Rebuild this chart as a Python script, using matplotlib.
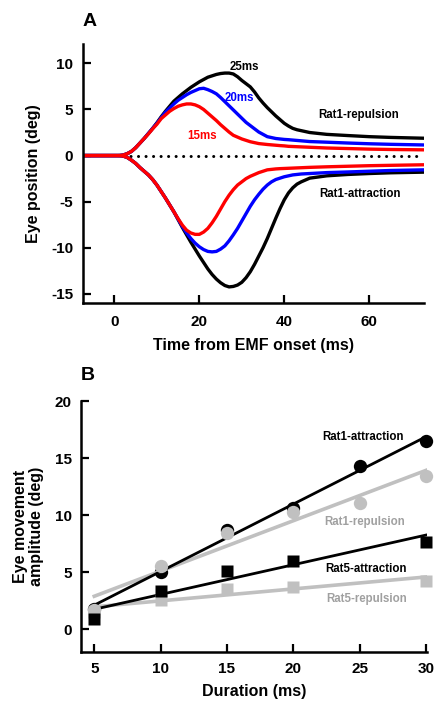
import numpy as np
import matplotlib
matplotlib.use("Agg")
from matplotlib import pyplot as plt

plt.rcParams['font.family'] = ['Liberation Sans', 'DejaVu Sans']
plt.rcParams['font.weight'] = 'bold'
plt.rcParams['axes.unicode_minus'] = False

# ---- panel A: eye position traces ----
t = [-7.4, -4] + list(range(45)) + [46, 50, 55, 60, 65, 72.9]

rep_25 = [0, 0, 0, 0, 0.05, 0.2, 0.45, 0.85, 1.35, 1.85, 2.4, 2.95, 3.55, 4.2, 4.8,
          5.35, 5.9, 6.3, 6.7, 7.05, 7.4, 7.7, 8.0, 8.25, 8.5, 8.65, 8.8, 8.9, 8.95,
          8.95, 8.85, 8.55, 8.15, 7.8, 7.45, 6.9, 6.25, 5.7, 5.2, 4.75, 4.3, 3.9,
          3.5, 3.2, 2.95, 2.8, 2.7, 2.5, 2.3, 2.17, 2.05, 1.97, 1.88]
rep_20 = [0, 0, 0, 0, 0.05, 0.2, 0.45, 0.85, 1.35, 1.85, 2.4, 2.95, 3.5, 4.1, 4.7,
          5.15, 5.6, 6.0, 6.3, 6.6, 6.85, 7.05, 7.25, 7.3, 7.15, 6.95, 6.7, 6.3,
          5.85, 5.4, 4.95, 4.5, 4.05, 3.6, 3.25, 2.9, 2.55, 2.3, 2.05, 1.95, 1.85,
          1.8, 1.75, 1.72, 1.68, 1.64, 1.6, 1.52, 1.45, 1.36, 1.28, 1.22, 1.15]
rep_15 = [0, 0, 0, 0, 0.05, 0.2, 0.45, 0.85, 1.35, 1.85, 2.35, 2.9, 3.4, 4.0, 4.4,
          4.8, 5.1, 5.35, 5.5, 5.6, 5.6, 5.5, 5.3, 5.0, 4.6, 4.2, 3.8, 3.35, 2.95,
          2.55, 2.2, 2.0, 1.8, 1.65, 1.5, 1.4, 1.3, 1.25, 1.2, 1.16, 1.12, 1.08,
          1.05, 1.0, 0.98, 0.96, 0.94, 0.9, 0.82, 0.76, 0.7, 0.66, 0.62]
att_25 = [0, 0, 0, 0, -0.05, -0.2, -0.5, -0.85, -1.3, -1.7, -2.1, -2.6, -3.2, -3.9,
          -4.6, -5.35, -6.1, -6.95, -7.8, -8.6, -9.4, -10.15, -10.9, -11.6, -12.3,
          -12.9, -13.4, -13.8, -14.1, -14.25, -14.2, -14.05, -13.75, -13.25, -12.6,
          -11.8, -10.9, -10.0, -9.0, -7.9, -6.8, -5.75, -4.8, -4.05, -3.5, -3.1,
          -2.85, -2.45, -2.2, -2.05, -1.95, -1.87, -1.8]
att_20 = [0, 0, 0, 0, -0.05, -0.2, -0.5, -0.85, -1.3, -1.7, -2.1, -2.6, -3.2, -3.9,
          -4.6, -5.35, -6.1, -6.9, -7.7, -8.4, -9.0, -9.5, -9.9, -10.2, -10.4,
          -10.45, -10.4, -10.15, -9.8, -9.25, -8.6, -7.9, -7.1, -6.3, -5.5, -4.8,
          -4.2, -3.65, -3.2, -2.85, -2.6, -2.45, -2.3, -2.2, -2.1, -2.05, -2.0,
          -1.95, -1.85, -1.78, -1.7, -1.62, -1.55]
att_15 = [0, 0, 0, 0, -0.05, -0.2, -0.5, -0.85, -1.3, -1.7, -2.1, -2.6, -3.2, -3.9,
          -4.6, -5.35, -6.1, -6.85, -7.55, -8.1, -8.4, -8.55, -8.55, -8.3, -7.9,
          -7.3, -6.6, -5.8, -5.0, -4.3, -3.7, -3.2, -2.85, -2.5, -2.25, -2.05,
          -1.85, -1.7, -1.55, -1.5, -1.45, -1.42, -1.4, -1.38, -1.36, -1.34, -1.32,
          -1.28, -1.22, -1.16, -1.1, -1.06, -1.0]

# ---- panel B: amplitude vs duration ----
dur = [5, 10, 15, 20, 25, 30]
r1_att = [1.8, 5.0, 8.7, 10.6, 14.3, 16.5]
r1_rep = [1.7, 5.5, 8.4, 10.3, 11.1, 13.4]
dur5 = [5, 10, 15, 20, 30]
r5_att = [0.9, 3.35, 5.1, 6.0, 7.67]
r5_rep = [1.5, 2.6, 3.5, 3.7, 4.25]

GRAY = '#c0c0c0'
GRAY_TXT = '#a0a0a0'

fig = plt.figure(figsize=(4.36, 7.08), dpi=100)

# ----------- A -----------
ax = fig.add_axes([0.1904, 0.572, 0.782, 0.3658])
ax.plot([2, 71.5], [0, 0], color='black', lw=2.2, ls=(0, (0.01, 2.45)),
        dash_capstyle='round')
lw = 2.4
ax.plot(t, rep_25, color='black', lw=lw, solid_joinstyle='round')
ax.plot(t, att_25, color='black', lw=lw, solid_joinstyle='round')
ax.plot(t, rep_20, color='#0000ff', lw=lw, solid_joinstyle='round')
ax.plot(t, att_20, color='#0000ff', lw=lw, solid_joinstyle='round')
ax.plot(t, rep_15, color='#ff0000', lw=lw, solid_joinstyle='round')
ax.plot(t, att_15, color='#ff0000', lw=lw, solid_joinstyle='round')

ax.text(30.7, 9.58, '25ms', color='black', fontsize=8.3, ha='center', va='center')
ax.text(29.4, 6.27, '20ms', color='#0000ff', fontsize=8.3, ha='center', va='center')
ax.text(20.75, 2.17, '15ms', color='#ff0000', fontsize=8.3, ha='center', va='center')
ax.text(57.6, 4.42, 'Rat1-repulsion', fontsize=8.3, ha='center', va='center')
ax.text(57.9, -4.2, 'Rat1-attraction', fontsize=8.3, ha='center', va='center')

ax.set_xlim(-7.4, 72.9)
ax.set_ylim(-16.0, 12.1)
ax.set_xticks([0, 20, 40, 60])
ax.set_yticks([-15, -10, -5, 0, 5, 10])
ax.set_xlabel('Time from EMF onset (ms)', fontsize=11.5, fontweight='bold', labelpad=6.5)
ax.set_ylabel('Eye position (deg)', fontsize=11.5, fontweight='bold', labelpad=7)
fig.text(90 / 436, 1 - 21 / 708, 'A', fontsize=14, fontweight='bold',
         ha='center', va='center')

# ----------- B -----------
bx = fig.add_axes([0.1858, 0.0791, 0.7936, 0.3545])
xx = np.array([5, 30])
for xs, ys, c, lwid in [(dur, r1_rep, GRAY, 2.6), (dur5, r5_rep, GRAY, 2.6),
                        (dur, r1_att, 'black', 2.0), (dur5, r5_att, 'black', 2.0)]:
    k, b = np.polyfit(xs, ys, 1)
    bx.plot(xx, k * xx + b, color=c, lw=lwid, zorder=2)

bx.plot(dur, r1_rep, 'o', color=GRAY, ms=9.6, mec='none', clip_on=False, zorder=3)
bx.plot(dur5, r5_rep, 's', color=GRAY, ms=9.0, mec='none', clip_on=False, zorder=3)
bx.plot(dur, r1_att, 'o', color='black', ms=9.6, mec='none', clip_on=False, zorder=1)
bx.plot(dur5, r5_att, 's', color='black', ms=9.0, mec='none', clip_on=False, zorder=4)

bx.text(25.3, 16.86, 'Rat1-attraction', fontsize=8.3, ha='center', va='center')
bx.text(25.4, 9.42, 'Rat1-repulsion', fontsize=8.3, color=GRAY_TXT, ha='center', va='center')
bx.text(25.5, 5.29, 'Rat5-attraction', fontsize=8.3, ha='center', va='center')
bx.text(25.5, 2.64, 'Rat5-repulsion', fontsize=8.3, color=GRAY_TXT, ha='center', va='center')

bx.set_xlim(4, 30.09)
bx.set_ylim(-2, 20)
bx.set_xticks(dur)
bx.set_yticks([0, 5, 10, 15, 20])
bx.set_xlabel('Duration (ms)', fontsize=11.5, fontweight='bold', labelpad=6)
bx.set_ylabel('Eye movement\namplitude (deg)', fontsize=11.5, fontweight='bold',
              labelpad=8, linespacing=1.05)
fig.text(88 / 436, 1 - 375 / 708, 'B', fontsize=14, fontweight='bold',
         ha='center', va='center')

for a, xpad, ypad in [(ax, 8.6, 7), (bx, 7, 6.7)]:
    for s in ['top', 'right']:
        a.spines[s].set_visible(False)
    for s in ['left', 'bottom']:
        a.spines[s].set_linewidth(1.8)
    a.tick_params(axis='both', direction='in', length=6, width=1.6, labelsize=11)
    a.tick_params(axis='x', pad=xpad)
    a.tick_params(axis='y', pad=ypad)
    for lab in a.get_xticklabels() + a.get_yticklabels():
        lab.set_fontweight('bold')

fig.savefig('out.png', dpi=100)
